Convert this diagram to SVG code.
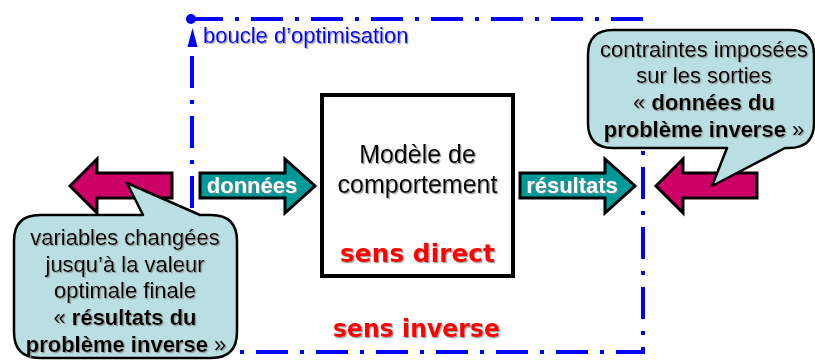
<svg xmlns="http://www.w3.org/2000/svg" width="815" height="361" viewBox="0 0 815 361">
  <defs>
    <filter id="sh" x="-10%" y="-30%" width="120%" height="160%">
      <feDropShadow dx="1.2" dy="1.2" stdDeviation="0.6" flood-color="#888" flood-opacity="0.8"/>
    </filter>
  </defs>
  <style>
    text { font-family: "Liberation Sans", Arial, sans-serif; }
    .loop { fill: none; stroke: #0000FF; stroke-width: 4; stroke-dasharray: 32 12 4 12; }
    .blue { fill: #0000FF; }
    .teal { fill: #009999; stroke: #000; stroke-width: 3; stroke-linejoin: miter; }
    .mag { fill: #CC0066; stroke: #000; stroke-width: 3; stroke-linejoin: miter; }
    .callout { fill: #BADFE2; stroke: #000; stroke-width: 2.5; stroke-linejoin: round; }
    .ct { font-size: 22px; fill: #000; text-anchor: middle; filter: url(#sh); }
    .b { font-weight: bold; }
    .lbl { font-size: 22px; font-weight: bold; fill: #fff; text-anchor: middle; filter: url(#sh); }
    .red { font-family: "DejaVu Sans", sans-serif; font-size: 24px; font-weight: bold; fill: #FF0000; text-anchor: middle; filter: url(#sh); }
  </style>

  <g id="connectors">
    <path class="loop" d="M191,19 H643 V352 H192 V55"/>
    <circle class="blue" cx="191" cy="19" r="5"/>
    <polygon class="blue" points="192.5,28 187.5,47 197.5,47"/>
  </g>

  <g id="loop-label">
    <text x="203" y="43" class="blue" font-size="22" filter="url(#sh)">boucle d’optimisation</text>
  </g>

  <g id="model">
    <rect x="322" y="95" width="191" height="181" fill="#fff" stroke="#000" stroke-width="4"/>
    <text x="417.5" y="163" font-size="25" text-anchor="middle" fill="#000" filter="url(#sh)">Modèle de</text>
    <text x="417.5" y="193" font-size="25" text-anchor="middle" fill="#000" filter="url(#sh)">comportement</text>
    <text x="417.5" y="262" class="red" textLength="155" lengthAdjust="spacingAndGlyphs">sens direct</text>
  </g>

  <g id="sens-inverse">
    <text x="416.5" y="337" class="red" textLength="167" lengthAdjust="spacingAndGlyphs">sens inverse</text>
  </g>

  <g id="arrow-donnees">
    <polygon class="teal" points="200,173 285,173 285,159 315,186 285,213 285,198 200,198"/>
    <text x="252" y="193" class="lbl">données</text>
  </g>

  <g id="arrow-resultats">
    <polygon class="teal" points="520,173 605,173 605,159 635,186 605,213 605,198 520,198"/>
    <text x="572" y="193" class="lbl">résultats</text>
  </g>

  <g id="arrow-left">
    <polygon class="mag" points="172,173 97,173 97,159 70,186 97,213 97,198 172,198"/>
  </g>

  <g id="arrow-right">
    <polygon class="mag" points="757,173 683,173 683,159 656,186 683,213 683,198 757,198"/>
  </g>

  <g id="callout-bottom-left">
    <path class="callout" d="M40,215 H143 L127,183 L200,215 H211 Q237,215 237,241 V332 Q237,358 211,358 H40 Q14,358 14,332 V241 Q14,215 40,215 Z"/>
    <text class="ct" x="125" y="245">variables changées</text>
    <text class="ct" x="125" y="272">jusqu’à la valeur</text>
    <text class="ct" x="125" y="298">optimale finale</text>
    <text class="ct" x="125" y="325">« <tspan class="b">résultats du</tspan></text>
    <text class="ct" x="126" y="352"><tspan class="b">problème inverse</tspan> »</text>
  </g>

  <g id="callout-top-right">
    <path class="callout" d="M613,30 H789 Q814,30 814,55 V123 Q814,148 789,148 H785 L712,186 L727,148 H613 Q588,148 588,123 V55 Q588,30 613,30 Z"/>
    <text class="ct" x="704" y="57">contraintes imposées</text>
    <text class="ct" x="704" y="83">sur les sorties</text>
    <text class="ct" x="704" y="110">« <tspan class="b">données du</tspan></text>
    <text class="ct" x="704" y="137"><tspan class="b">problème inverse</tspan> »</text>
  </g>
</svg>
